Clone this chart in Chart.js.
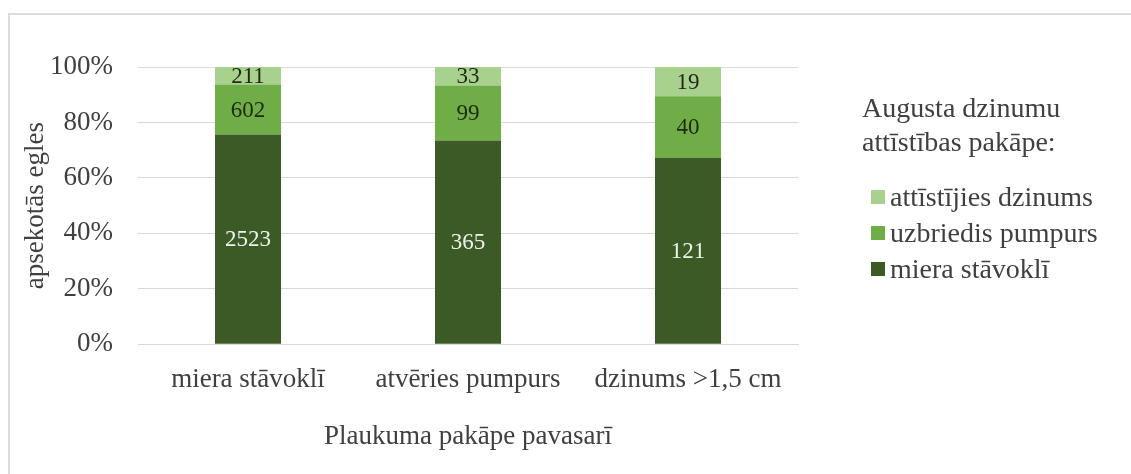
<!DOCTYPE html>
<html>
<head>
<meta charset="utf-8">
<script src="https://cdn.jsdelivr.net/npm/chart.js@4/dist/chart.umd.min.js"></script>
<style>
  html, body { margin: 0; padding: 0; background: #fff; }
  #wrap { position: relative; width: 1131px; height: 474px; overflow: hidden; }
  #frame {
    position: absolute; left: 8px; top: 13px; width: 1140px; height: 480px;
    border-left: 2px solid #dcdcdc; border-top: 2px solid #dcdcdc;
  }
  #legend {
    position: absolute; left: 862px; top: 91px;
    font-family: "Liberation Serif";
    color: #404040; font-size: 28px;
  }
  #legend .title { line-height: 34px; margin-bottom: 20px; white-space: nowrap; }
  #legend .item { display: flex; align-items: center; height: 36px; margin-left: 9px; white-space: nowrap; }
  #legend .box { width: 14px; height: 14px; margin-right: 5px; }
</style>
</head>
<body>
<div id="wrap">
  <div id="frame"></div>
  <canvas id="chart" width="1131" height="474"></canvas>
  <div id="legend"></div>
</div>
<script>
// categories (spring flushing stage)
const categories = ["miera stāvoklī", "atvēries pumpurs", "dzinums >1,5 cm"];

// August shoot development counts, per category
const restCounts = [2523, 365, 121];      // miera stāvoklī
const budCounts = [602, 99, 40];          // uzbriedis pumpurs
const shootCounts = [211, 33, 19];        // attīstījies dzinums

const seriesNames = ["miera stāvoklī", "uzbriedis pumpurs", "attīstījies dzinums"];
const seriesColors = ["#3b5a26", "#6fad47", "#a9d18e"];
const labelColors = ["#eef3ea", "#1f2a14", "#1f2a14"];
const yTicks = ["0%", "20%", "40%", "60%", "80%", "100%"];

const totals = categories.map((_, i) => restCounts[i] + budCounts[i] + shootCounts[i]);
const toPct = arr => arr.map((v, i) => v / totals[i] * 100);

const counts = [restCounts, budCounts, shootCounts];

const FONT = "Liberation Serif";

// draws the raw counts in the middle of each stacked segment
const segmentLabels = {
  id: "segmentLabels",
  afterDatasetsDraw(chart) {
    const ctx = chart.ctx;
    ctx.save();
    ctx.font = "23px '" + FONT + "'";
    ctx.textAlign = "center";
    ctx.textBaseline = "middle";
    chart.data.datasets.forEach((ds, di) => {
      const meta = chart.getDatasetMeta(di);
      meta.data.forEach((bar, i) => {
        const p = bar.getProps(["x", "y", "base"], true);
        ctx.fillStyle = labelColors[di];
        ctx.fillText(String(counts[di][i]), p.x, (p.y + p.base) / 2 + 1);
      });
    });
    ctx.restore();
  }
};

const chart = new Chart(document.getElementById("chart"), {
  type: "bar",
  data: {
    labels: categories,
    datasets: counts.map((c, di) => ({
      label: seriesNames[di],
      data: toPct(c),
      backgroundColor: seriesColors[di],
      borderWidth: 0,
      barPercentage: 0.3,
      categoryPercentage: 1
    }))
  },
  options: {
    responsive: false,
    animation: false,
    layout: { padding: { left: 20, right: 333, top: 67, bottom: 21 } },
    plugins: {
      legend: { display: false },
      tooltip: { enabled: false }
    },
    scales: {
      x: {
        stacked: true,
        grid: { display: false },
        border: { color: "#d9d9d9", width: 1 },
        ticks: { color: "#404040", font: { family: FONT, size: 27 }, padding: 12, maxRotation: 0 },
        title: {
          display: true, text: "Plaukuma pakāpe pavasarī",
          color: "#404040", font: { family: FONT, size: 27 }, padding: { top: 12, bottom: 0 }
        }
      },
      y: {
        stacked: true,
        min: 0, max: 100,
        // fixed axis width so the plot starts at the same place
        afterFit: (scale) => { scale.width = 118; },
        grid: { color: "#d9d9d9", drawTicks: false },
        border: { display: false },
        ticks: {
          stepSize: 20,
          padding: 25,
          color: "#404040",
          font: { family: FONT, size: 27 },
          callback: (v) => yTicks[Math.round(v / 20)]
        },
        title: {
          display: true, text: "apsekotās egles",
          color: "#404040", font: { family: FONT, size: 27 }, padding: { top: 0, bottom: 2 }
        }
      }
    }
  },
  plugins: [segmentLabels]
});

// legend, light series on top
const legend = document.getElementById("legend");
legend.innerHTML = '<div class="title">Augusta dzinumu<br>attīstības pakāpe:</div>' +
  seriesNames.map((n, i) => ({ n, c: seriesColors[i] })).reverse()
    .map(s => `<div class="item"><span class="box" style="background:${s.c}"></span>${s.n}</div>`).join("");
</script>
</body>
</html>
